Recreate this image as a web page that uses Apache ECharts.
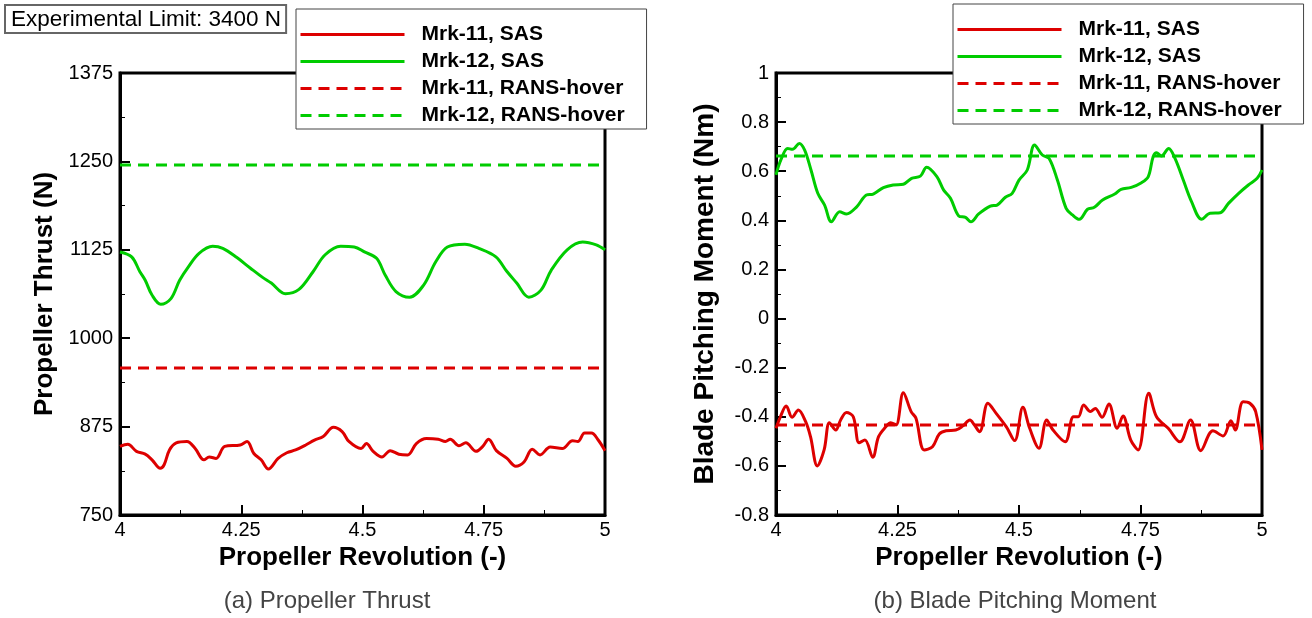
<!DOCTYPE html>
<html>
<head>
<meta charset="utf-8">
<script src="https://cdn.jsdelivr.net/npm/echarts@6/dist/echarts.min.js"></script>
<style>
  html, body { margin: 0; padding: 0; background: #fff; }
  #chart { width: 1312px; height: 618px; }
</style>
</head>
<body>
<div id="chart"></div>
<script>
// (a) propeller thrust, Mrk-12 SAS
var thrustMrk12X = [4.0, 4.024, 4.041, 4.052, 4.066, 4.084, 4.105, 4.123, 4.141, 4.163, 4.191, 4.212, 4.241, 4.269, 4.294, 4.312, 4.341, 4.369, 4.398, 4.423, 4.455, 4.483, 4.504, 4.529, 4.547, 4.569, 4.597, 4.626, 4.651, 4.675, 4.711, 4.740, 4.775, 4.797, 4.818, 4.843, 4.868, 4.889, 4.922, 4.954, 4.982, 5.0];
var thrustMrk12Y = [1122, 1115, 1094, 1082, 1061, 1048, 1056, 1082, 1101, 1120, 1130, 1127, 1114, 1099, 1086, 1078, 1063, 1069, 1094, 1118, 1130, 1129, 1122, 1113, 1089, 1066, 1058, 1075, 1108, 1129, 1133, 1127, 1115, 1095, 1078, 1058, 1068, 1096, 1125, 1136, 1132, 1125];

// (a) propeller thrust, Mrk-11 SAS
var thrustMrk11X = [4.0, 4.016, 4.034, 4.052, 4.066, 4.083, 4.091, 4.102, 4.116, 4.138, 4.155, 4.173, 4.184, 4.198, 4.216, 4.248, 4.262, 4.276, 4.291, 4.306, 4.326, 4.344, 4.362, 4.383, 4.401, 4.419, 4.440, 4.458, 4.472, 4.497, 4.508, 4.522, 4.540, 4.557, 4.575, 4.593, 4.611, 4.632, 4.656, 4.671, 4.681, 4.699, 4.713, 4.734, 4.748, 4.760, 4.776, 4.798, 4.816, 4.833, 4.850, 4.866, 4.887, 4.912, 4.933, 4.944, 4.958, 4.972, 4.986, 5.0];
var thrustMrk11Y = [847, 850, 840, 836, 828, 816, 821, 842, 852, 854, 844, 828, 832, 830, 847, 849, 854, 837, 828, 815, 830, 838, 842, 849, 856, 861, 874, 868, 854, 844, 851, 840, 832, 841, 836, 835, 851, 858, 857, 854, 857, 848, 852, 840, 847, 857, 841, 830, 819, 825, 843, 835, 846, 844, 855, 854, 866, 866, 856, 841];

// (b) blade pitching moment, Mrk-12 SAS
var momentMrk12X = [4.0, 4.010, 4.024, 4.034, 4.048, 4.059, 4.072, 4.086, 4.100, 4.114, 4.131, 4.145, 4.166, 4.186, 4.200, 4.221, 4.241, 4.262, 4.279, 4.297, 4.310, 4.331, 4.345, 4.359, 4.376, 4.390, 4.401, 4.417, 4.441, 4.455, 4.472, 4.486, 4.500, 4.517, 4.532, 4.548, 4.562, 4.579, 4.597, 4.610, 4.624, 4.641, 4.655, 4.672, 4.697, 4.710, 4.731, 4.752, 4.766, 4.776, 4.783, 4.793, 4.808, 4.821, 4.838, 4.855, 4.876, 4.893, 4.914, 4.931, 4.952, 4.972, 4.990, 5.0];
var momentMrk12Y = [0.585, 0.646, 0.693, 0.689, 0.713, 0.686, 0.605, 0.510, 0.462, 0.394, 0.435, 0.426, 0.455, 0.503, 0.507, 0.533, 0.544, 0.547, 0.571, 0.580, 0.616, 0.578, 0.523, 0.490, 0.418, 0.412, 0.394, 0.426, 0.458, 0.462, 0.494, 0.510, 0.564, 0.605, 0.707, 0.666, 0.652, 0.564, 0.449, 0.422, 0.404, 0.445, 0.453, 0.483, 0.507, 0.526, 0.534, 0.553, 0.578, 0.659, 0.675, 0.662, 0.693, 0.652, 0.564, 0.476, 0.404, 0.429, 0.431, 0.469, 0.510, 0.544, 0.571, 0.605];

// (b) blade pitching moment, Mrk-11 SAS
var momentMrk11X = [4.0, 4.009, 4.021, 4.033, 4.046, 4.061, 4.071, 4.085, 4.099, 4.110, 4.123, 4.133, 4.145, 4.159, 4.171, 4.183, 4.199, 4.211, 4.225, 4.236, 4.247, 4.262, 4.278, 4.288, 4.305, 4.322, 4.336, 4.350, 4.370, 4.384, 4.399, 4.408, 4.419, 4.436, 4.453, 4.474, 4.491, 4.508, 4.522, 4.541, 4.557, 4.570, 4.595, 4.612, 4.622, 4.633, 4.647, 4.657, 4.671, 4.685, 4.702, 4.714, 4.730, 4.745, 4.767, 4.783, 4.807, 4.831, 4.853, 4.874, 4.899, 4.920, 4.936, 4.945, 4.961, 4.975, 4.987, 5.0];
var momentMrk11Y = [-0.447, -0.400, -0.356, -0.402, -0.372, -0.420, -0.481, -0.600, -0.535, -0.424, -0.454, -0.413, -0.383, -0.400, -0.506, -0.495, -0.565, -0.481, -0.443, -0.424, -0.433, -0.302, -0.379, -0.406, -0.535, -0.522, -0.470, -0.457, -0.454, -0.438, -0.413, -0.433, -0.461, -0.345, -0.386, -0.441, -0.497, -0.361, -0.447, -0.528, -0.413, -0.454, -0.502, -0.400, -0.400, -0.352, -0.379, -0.366, -0.402, -0.348, -0.447, -0.397, -0.495, -0.535, -0.304, -0.400, -0.447, -0.502, -0.413, -0.538, -0.457, -0.478, -0.416, -0.454, -0.339, -0.345, -0.379, -0.535];

// RANS-hover reference levels
var thrustRans = { mrk11: 958, mrk12: 1245 };
var momentRans = { mrk11: -0.433, mrk12: 0.662 };

var revRange = [4, 5];
var seriesNames = ["Mrk-11, SAS", "Mrk-12, SAS", "Mrk-11, RANS-hover", "Mrk-12, RANS-hover"];

var RED = "#dd0000";
var GREEN = "#00cc00";
var FONT = "Liberation Sans";

function zip(xs, ys) {
  return xs.map(function (x, i) { return [x, ys[i]]; });
}

function flat(v) {
  return [[revRange[0], v], [revRange[1], v]];
}

function lineSeries(name, idx, color, data, dashed) {
  return {
    name: name,
    type: "line",
    xAxisIndex: idx,
    yAxisIndex: idx,
    data: data,
    symbol: "none",
    smooth: dashed ? false : 0.35,
    animation: false,
    lineStyle: { color: color, width: 3, type: dashed ? [11, 7] : "solid" },
    itemStyle: { color: color }
  };
}

function xAxisOf(idx) {
  return {
    type: "value",
    gridIndex: idx,
    min: 4,
    max: 5,
    interval: 0.25,
    name: "Propeller Revolution (-)",
    nameLocation: "middle",
    nameGap: 28,
    nameTextStyle: { fontFamily: FONT, fontSize: 26, fontWeight: "bold", color: "#000" },
    axisLine: { show: true, onZero: false, lineStyle: { color: "#000", width: 3 } },
    axisTick: { show: true, inside: true, length: 10, lineStyle: { color: "#000", width: 2 } },
    minorTick: { show: true, splitNumber: 2, length: 5, lineStyle: { color: "#000", width: 1 } },
    splitLine: { show: false },
    axisLabel: { fontFamily: FONT, fontSize: 20, color: "#000", margin: 5 }
  };
}

function yAxisOf(idx, min, max, step, title, gap, nameSize) {
  return {
    type: "value",
    gridIndex: idx,
    min: min,
    max: max,
    interval: step,
    name: title,
    nameLocation: "middle",
    nameGap: gap,
    nameTextStyle: { fontFamily: FONT, fontSize: nameSize, fontWeight: "bold", color: "#000" },
    axisLine: { show: true, onZero: false, lineStyle: { color: "#000", width: 3 } },
    axisTick: { show: true, inside: true, length: 10, lineStyle: { color: "#000", width: 2 } },
    minorTick: { show: true, splitNumber: 2, length: 5, lineStyle: { color: "#000", width: 1 } },
    splitLine: { show: false },
    axisLabel: {
      fontFamily: FONT, fontSize: 20, color: "#000", margin: 7,
      formatter: function (v) { return String(+v.toFixed(2)); }
    }
  };
}

function legendAt(left, top) {
  return {
    left: left,
    top: top,
    orient: "vertical",
    data: seriesNames,
    itemWidth: 104,
    itemHeight: 14,
    itemGap: 6,
    selectedMode: false,
    backgroundColor: "#fff",
    borderColor: "#444",
    borderWidth: 1,
    padding: [15, 22, 3, 3],
    itemStyle: { opacity: 0 },
    lineStyle: { width: 3 },
    textStyle: { fontFamily: FONT, fontSize: 21, fontWeight: "bold", color: "#000", padding: [0, 0, 0, 12] }
  };
}

var myChart = echarts.init(document.getElementById("chart"));

var option = {
  backgroundColor: "#fff",
  animation: false,
  grid: [
    { left: 120, top: 73, width: 485, height: 442, show: true, borderColor: "#000", borderWidth: 3 },
    { left: 776, top: 73, width: 486, height: 442, show: true, borderColor: "#000", borderWidth: 3 }
  ],
  xAxis: [xAxisOf(0), xAxisOf(1)],
  yAxis: [
    yAxisOf(0, 750, 1375, 125, "Propeller Thrust (N)", 62, 26),
    yAxisOf(1, -0.8, 1, 0.2, "Blade Pitching Moment (Nm)", 57, 28)
  ],
  legend: [legendAt(296, 9), legendAt(953, 4)],
  series: [
    lineSeries(seriesNames[0], 0, RED, zip(thrustMrk11X, thrustMrk11Y), false),
    lineSeries(seriesNames[1], 0, GREEN, zip(thrustMrk12X, thrustMrk12Y), false),
    lineSeries(seriesNames[2], 0, RED, flat(thrustRans.mrk11), true),
    lineSeries(seriesNames[3], 0, GREEN, flat(thrustRans.mrk12), true),
    lineSeries(seriesNames[0], 1, RED, zip(momentMrk11X, momentMrk11Y), false),
    lineSeries(seriesNames[1], 1, GREEN, zip(momentMrk12X, momentMrk12Y), false),
    lineSeries(seriesNames[2], 1, RED, flat(momentRans.mrk11), true),
    lineSeries(seriesNames[3], 1, GREEN, flat(momentRans.mrk12), true)
  ],
  graphic: [
    {
      type: "text",
      left: 4,
      top: 4,
      z: 10,
      style: {
        text: "Experimental Limit: 3400 N",
        fontFamily: FONT,
        fontSize: 22.5,
        fill: "#000",
        backgroundColor: "#fff",
        borderColor: "#666",
        borderWidth: 2,
        padding: [2, 4, 1, 5]
      }
    },
    {
      type: "text",
      x: 327,
      y: 589,
      style: { text: "(a) Propeller Thrust", fontFamily: FONT, fontSize: 24, fill: "#444", textAlign: "center" }
    },
    {
      type: "text",
      x: 1015,
      y: 589,
      style: { text: "(b) Blade Pitching Moment", fontFamily: FONT, fontSize: 24, fill: "#444", textAlign: "center" }
    }
  ]
};

myChart.setOption(option);
</script>
</body>
</html>
